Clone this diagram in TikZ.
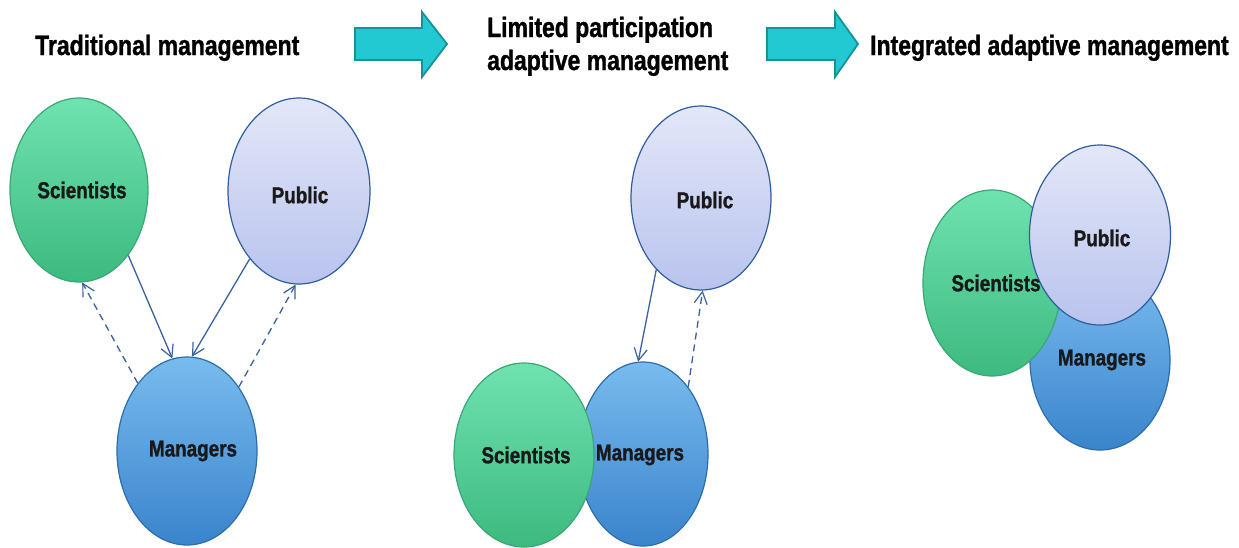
\documentclass[tikz,border=0pt]{standalone}
\usepackage{fontspec}
\setmainfont{Liberation Sans}[FakeStretch=0.82, BoldFeatures={FakeBold=1.2}]
\usetikzlibrary{shapes.geometric,arrows.meta}
\definecolor{arrfill}{HTML}{22C9D2}
\definecolor{arrdraw}{HTML}{14939A}
\definecolor{gtop}{HTML}{6FE2B0}
\definecolor{gbot}{HTML}{3DBA80}
\definecolor{gline}{HTML}{3AA874}
\definecolor{ptop}{HTML}{E3E7F8}
\definecolor{pbot}{HTML}{B9C3EE}
\definecolor{pline}{HTML}{2F5E9E}
\definecolor{mtop}{HTML}{78BBEE}
\definecolor{mbot}{HTML}{3A84CC}
\definecolor{mline}{HTML}{2D6DAA}
\definecolor{conn}{HTML}{3A62A0}
\tikzset{
  blob/.style={ellipse, inner sep=0pt, line width=1.2pt},
  sci/.style={blob, draw=gline, top color=gtop, bottom color=gbot},
  pub/.style={blob, draw=pline, top color=ptop, bottom color=pbot},
  man/.style={blob, draw=mline, top color=mtop, bottom color=mbot},
  lbl/.style={font=\fontsize{23}{26}\selectfont\bfseries, text=black!90, inner sep=0pt},
  ttl/.style={font=\fontsize{28}{33}\selectfont\bfseries, text=black, inner sep=0pt, anchor=base west, align=left},
  blockarrow/.style={fill=arrfill, draw=arrdraw, line width=1.8pt, line join=miter},
  solidc/.style={draw=conn, line width=1.3pt, -{Straight Barb[length=12pt,width=13pt,line width=1.2pt]}},
  dashc/.style={draw=conn, line width=1.3pt, dash pattern=on 7pt off 5pt, -{Straight Barb[length=12pt,width=13pt,line width=1.2pt]}}
}
\begin{document}
\begin{tikzpicture}[x=1pt,y=-1pt]
\useasboundingbox[fill=white] (0,0) rectangle (1239,547);

% titles
\node[ttl] (t1) at (35,55) {Traditional management};
\node[ttl] (t2) at (487,37) {Limited participation};
\node[ttl] (t2b) at (487,70) {adaptive management};
\node[ttl] (t3) at (870,55) {Integrated adaptive management};

% block arrows
\draw[blockarrow] (355,28) -- (422,28) -- (422,12) -- (447,44) -- (422,77) -- (422,60) -- (355,60) -- cycle;
\draw[blockarrow] (767,28) -- (835,28) -- (835,12) -- (858,44) -- (835,77) -- (835,60) -- (767,60) -- cycle;

% panel 1
\node[sci, minimum width=138pt, minimum height=184pt] (s1) at (79,190) {};
\node[pub, minimum width=142pt, minimum height=186pt] (p1) at (299,191) {};
\node[man, minimum width=140pt, minimum height=188pt] (m1) at (187,451) {};
\node[lbl] (s1l) at (82,190) {Scientists};
\node[lbl] (p1l) at (300,195) {Public};
\node[lbl] (m1l) at (193,451) {Managers};
\draw[solidc] (s1.-53) -- (m1.99);
\draw[dashc] (m1.126) -- (s1.-88);
\draw[solidc] (p1.234) -- (m1.87);
\draw[dashc] (m1.51) -- (p1.-92);

% panel 2
\node[pub, minimum width=140pt, minimum height=184pt] (p2) at (701,198) {};
\node[man, minimum width=130pt, minimum height=184pt] (m2) at (643,454) {};
\node[sci, minimum width=140pt, minimum height=184pt] (s2) at (524,455) {};
\node[lbl] (s2l) at (526,455) {Scientists};
\node[lbl] (m2l) at (640,455) {Managers};
\node[lbl] (p2l) at (705,200) {Public};
\draw[solidc] (p2.238) -- (m2.93);
\draw[dashc] (m2.56) -- (p2.-89);

% panel 3
\node[man, minimum width=140pt, minimum height=180pt] (m3) at (1100,360) {};
\node[sci, minimum width=138pt, minimum height=186pt] (s3) at (992,283) {};
\node[pub, minimum width=141pt, minimum height=180pt] (p3) at (1100,235) {};
\node[lbl] (s3l) at (996,283) {Scientists};
\node[lbl] (p3l) at (1102,238) {Public};
\node[lbl] (m3l) at (1102,360) {Managers};
\end{tikzpicture}
\end{document}
